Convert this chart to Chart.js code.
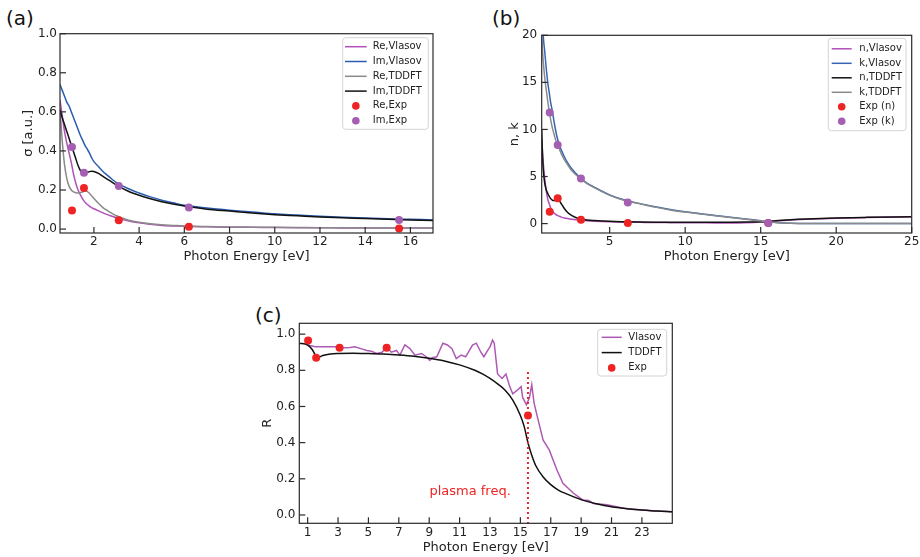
<!DOCTYPE html>
<html>
<head>
<meta charset="utf-8">
<script src="https://cdn.jsdelivr.net/npm/chart.js@4.4.1/dist/chart.umd.min.js"></script>
<style>
  html, body { margin: 0; padding: 0; background: #fff; }
  body { width: 920px; height: 557px; position: relative; overflow: hidden; font-family: 'DejaVu Sans', sans-serif; }
  canvas { position: absolute; }
  .tag { position: absolute; font-size: 20px; line-height: 20px; color: #111; }
</style>
</head>
<body>
<div class="tag" style="left:6px;top:8px">(a)</div>
<div class="tag" style="left:492px;top:8px">(b)</div>
<div class="tag" style="left:255px;top:305px">(c)</div>
<canvas id="chartA" width="455" height="244" style="left:0px;top:20px"></canvas>
<canvas id="chartB" width="440" height="244" style="left:490px;top:20px"></canvas>
<canvas id="chartC" width="440" height="250" style="left:250px;top:305px"></canvas>
<script>
// experimental photon energies (same for all panels)
const expEnergy = [1.03, 1.56, 3.1, 6.2, 15.5];

// (a) conductivity
const energyA = [0.5, 0.6, 0.7, 0.8, 0.9, 1.0, 1.1, 1.2, 1.3, 1.4, 1.5, 1.6, 1.7, 1.8, 1.9, 2.0, 2.2, 2.4, 2.6, 2.8, 3.0, 3.5, 4.0, 4.5, 5.0, 5.5, 6.0, 7.0, 8.0, 9.0, 10, 11, 12, 13, 14, 15, 16, 17];
const reVlasovA = [0.66, 0.58, 0.50, 0.44, 0.39, 0.34, 0.28, 0.235, 0.2, 0.175, 0.155, 0.138, 0.127, 0.118, 0.11, 0.104, 0.093, 0.083, 0.074, 0.066, 0.058, 0.043, 0.032, 0.025, 0.019, 0.016, 0.014, 0.012, 0.010, 0.009, 0.008, 0.007, 0.007, 0.006, 0.006, 0.005, 0.005, 0.005];
const imVlasovA = [0.74, 0.71, 0.68, 0.65, 0.63, 0.60, 0.57, 0.54, 0.51, 0.48, 0.455, 0.43, 0.41, 0.39, 0.365, 0.345, 0.32, 0.295, 0.275, 0.255, 0.238, 0.208, 0.185, 0.165, 0.148, 0.135, 0.122, 0.108, 0.097, 0.088, 0.078, 0.072, 0.066, 0.061, 0.057, 0.053, 0.050, 0.047];
const reTddftA = [0.62, 0.45, 0.33, 0.26, 0.22, 0.20, 0.19, 0.186, 0.185, 0.187, 0.19, 0.195, 0.193, 0.183, 0.17, 0.157, 0.132, 0.11, 0.094, 0.08, 0.068, 0.047, 0.035, 0.027, 0.022, 0.019, 0.016, 0.013, 0.011, 0.010, 0.009, 0.008, 0.007, 0.007, 0.006, 0.006, 0.006, 0.006];
const imTddftA = [0.61, 0.57, 0.535, 0.50, 0.465, 0.43, 0.395, 0.36, 0.325, 0.30, 0.29, 0.288, 0.29, 0.294, 0.296, 0.295, 0.285, 0.27, 0.255, 0.24, 0.225, 0.195, 0.173, 0.155, 0.14, 0.128, 0.118, 0.102, 0.092, 0.082, 0.074, 0.068, 0.062, 0.058, 0.054, 0.050, 0.047, 0.044];
const reExpA = [0.095, 0.21, 0.045, 0.012, 0.003];
const imExpA = [0.42, 0.288, 0.22, 0.11, 0.047];
const xTicksA = [2, 4, 6, 8, 10, 12, 14, 16];
const yTicksA = [0, 0.2, 0.4, 0.6, 0.8, 1.0];

// (b) n, k
const energyB = [0.5, 0.55, 0.6, 0.7, 0.8, 0.9, 1.0, 1.1, 1.2, 1.3, 1.4, 1.5, 1.6, 1.7, 1.8, 2.0, 2.2, 2.5, 3.0, 3.5, 4, 5, 6, 7, 8, 9, 10, 11, 12, 13, 14, 15, 16, 17, 18, 20, 22, 25];
const nVlasovB = [9.0, 7.6, 6.5, 4.8, 3.5, 2.6, 2.1, 1.65, 1.35, 1.15, 1.0, 0.9, 0.82, 0.75, 0.69, 0.6, 0.53, 0.45, 0.35, 0.29, 0.25, 0.19, 0.15, 0.13, 0.11, 0.1, 0.09, 0.08, 0.07, 0.07, 0.09, 0.16, 0.28, 0.38, 0.45, 0.56, 0.64, 0.72];
const kVlasovB = [24, 22, 20, 18.3, 16.5, 15.0, 13.9, 12.8, 12.0, 11.0, 10.1, 9.3, 8.7, 8.2, 7.8, 7.1, 6.5, 5.8, 4.95, 4.3, 3.85, 3.05, 2.5, 2.12, 1.8, 1.5, 1.25, 1.05, 0.85, 0.68, 0.5, 0.3, 0.12, 0.03, 0.01, 0.0, 0.0, 0.0];
const nTddftB = [10, 7.5, 5.8, 4.3, 3.6, 3.2, 2.9, 2.65, 2.5, 2.45, 2.45, 2.5, 2.5, 2.35, 2.1, 1.6, 1.2, 0.85, 0.5, 0.38, 0.32, 0.24, 0.2, 0.17, 0.15, 0.14, 0.13, 0.13, 0.13, 0.14, 0.16, 0.2, 0.3, 0.42, 0.5, 0.6, 0.66, 0.72];
const kTddftB = [20.2, 18.5, 17.3, 15.5, 14.2, 13.0, 11.9, 11.0, 10.2, 9.6, 9.0, 8.6, 8.2, 7.8, 7.4, 6.8, 6.3, 5.6, 4.85, 4.25, 3.8, 3.0, 2.45, 2.1, 1.75, 1.45, 1.22, 1.02, 0.82, 0.65, 0.47, 0.28, 0.12, 0.04, 0.02, 0.01, 0.0, 0.0];
const nExpB = [1.25, 2.7, 0.4, 0.05, 0.05];
const kExpB = [11.8, 8.35, 4.8, 2.25, 0.05];
const xTicksB = [5, 10, 15, 20, 25];
const yTicksB = [0, 5, 10, 15, 20];

// (c) reflectivity
const energyVlasovC = [1.0, 1.5, 2.0, 2.5, 2.9, 3.4, 3.8, 4.1, 4.5, 4.9, 5.2, 5.55, 5.9, 6.2, 6.5, 6.85, 7.07, 7.4, 7.73, 8.06, 8.5, 8.8, 9.04, 9.2, 9.5, 9.9, 10.2, 10.5, 10.78, 11.1, 11.4, 11.85, 12.1, 12.4, 12.6, 12.85, 13.0, 13.17, 13.28, 13.5, 13.8, 14.05, 14.3, 14.5, 14.8, 15.05, 15.15, 15.4, 15.6, 15.75, 15.9, 16.2, 16.5, 16.9, 17.4, 17.8, 18.5, 19.1, 19.5, 19.8, 20.7, 21.8, 22.9, 24, 25];
const vlasovC = [0.94, 0.93, 0.93, 0.93, 0.93, 0.925, 0.926, 0.93, 0.92, 0.91, 0.905, 0.893, 0.9, 0.93, 0.90, 0.91, 0.884, 0.94, 0.92, 0.884, 0.893, 0.875, 0.855, 0.87, 0.875, 0.95, 0.94, 0.92, 0.865, 0.884, 0.875, 0.94, 0.95, 0.90, 0.875, 0.91, 0.93, 0.967, 0.95, 0.78, 0.755, 0.78, 0.71, 0.67, 0.69, 0.71, 0.65, 0.61, 0.65, 0.72, 0.62, 0.515, 0.414, 0.36, 0.25, 0.175, 0.12, 0.083, 0.08, 0.064, 0.056, 0.037, 0.028, 0.022, 0.018];
const energyTddftC = [0.45, 1.0, 1.3, 1.5, 1.6, 1.8, 2.0, 2.5, 3, 4, 5, 6, 7, 8, 9, 10, 11, 12, 12.5, 13, 13.5, 14, 14.5, 15, 15.25, 15.5, 15.75, 16, 16.5, 17, 17.5, 18, 19, 20, 21, 22, 23, 24, 25];
const tddftC = [0.95, 0.94, 0.915, 0.885, 0.872, 0.875, 0.882, 0.89, 0.893, 0.895, 0.893, 0.89, 0.885, 0.878, 0.867, 0.852, 0.83, 0.80, 0.78, 0.755, 0.725, 0.69, 0.635, 0.55, 0.49, 0.40, 0.33, 0.275, 0.21, 0.168, 0.138, 0.118, 0.085, 0.062, 0.045, 0.035, 0.028, 0.022, 0.018];
const expC = [0.965, 0.87, 0.925, 0.925, 0.55];
const plasmaFreq = 15.5;
const plasmaLineY = [-0.05, 0.8];
const xTicksC = [1, 3, 5, 7, 9, 11, 13, 15, 17, 19, 21, 23];
const yTicksC = [0, 0.2, 0.4, 0.6, 0.8, 1.0];

Chart.defaults.font.family = "'DejaVu Sans', sans-serif";
Chart.defaults.color = '#222';

const RED = '#ee2424';
const PURPLE_DOT = '#a55fb2';

function pts(xs, ys) {
    return xs.map((x, i) => ({ x: x, y: ys[i] }));
}

function curve(label, xs, ys, color, smooth) {
    return {
        label: label,
        data: pts(xs, ys),
        showLine: true,
        borderColor: color,
        backgroundColor: color,
        borderWidth: 1.5,
        pointRadius: 0,
        cubicInterpolationMode: smooth ? 'monotone' : 'default'
    };
}

function dots(label, xs, ys, color) {
    return {
        label: label,
        data: pts(xs, ys),
        showLine: false,
        backgroundColor: color,
        borderColor: color,
        borderWidth: 0,
        pointRadius: 4
    };
}

// later datasets on top, like the original plot
function stack(list) {
    list.forEach((d, i) => { d.order = list.length - i; });
    return list;
}

// box frame and inward ticks
const frameTicks = {
    id: 'frameTicks',
    afterDraw(chart) {
        const { ctx, chartArea: a, scales } = chart;
        ctx.save();
        ctx.strokeStyle = '#2a2a2a';
        ctx.lineWidth = 1.2;
        scales.x.ticks.forEach(t => {
            const px = scales.x.getPixelForValue(t.value);
            ctx.beginPath();
            ctx.moveTo(px, a.bottom);
            ctx.lineTo(px, a.bottom - 6);
            ctx.stroke();
        });
        scales.y.ticks.forEach(t => {
            const py = scales.y.getPixelForValue(t.value);
            ctx.beginPath();
            ctx.moveTo(a.left, py);
            ctx.lineTo(a.left + 6, py);
            ctx.stroke();
        });
        ctx.strokeRect(a.left, a.top, a.right - a.left, a.bottom - a.top);
        ctx.restore();
    }
};

// matplotlib-like legend box in the upper right
const boxLegend = {
    id: 'boxLegend',
    afterDraw(chart, args, o) {
        const { ctx, chartArea: a } = chart;
        const x0 = a.right - o.inset - o.w;
        const y0 = a.top + o.top;
        ctx.save();
        ctx.beginPath();
        ctx.roundRect(x0, y0, o.w, o.h, 3);
        ctx.fillStyle = 'rgba(255,255,255,0.85)';
        ctx.fill();
        ctx.strokeStyle = '#d4d4d4';
        ctx.lineWidth = 1;
        ctx.stroke();
        ctx.font = "10px 'DejaVu Sans'";
        ctx.textBaseline = 'middle';
        chart.data.datasets.filter(d => d.label).forEach((d, i) => {
            const cy = y0 + o.first + i * o.rowH;
            if (d.showLine) {
                ctx.strokeStyle = d.borderColor;
                ctx.lineWidth = d.borderWidth;
                ctx.beginPath();
                ctx.moveTo(x0 + o.l0, cy);
                ctx.lineTo(x0 + o.l1, cy);
                ctx.stroke();
            } else {
                ctx.fillStyle = d.backgroundColor;
                ctx.beginPath();
                ctx.arc(x0 + (o.l0 + o.l1) / 2, cy, 3.8, 0, Math.PI * 2);
                ctx.fill();
            }
            ctx.fillStyle = '#222';
            ctx.fillText(d.label, x0 + o.tx, cy);
        });
        ctx.restore();
    }
};

const noteText = {
    id: 'noteText',
    afterDatasetsDraw(chart, args, o) {
        if (!o || !o.text) return;
        const { ctx, scales } = chart;
        ctx.save();
        ctx.font = "13px 'DejaVu Sans'";
        ctx.fillStyle = o.color;
        ctx.textAlign = 'right';
        ctx.textBaseline = 'middle';
        ctx.fillText(o.text, scales.x.getPixelForValue(o.x), scales.y.getPixelForValue(o.y));
        ctx.restore();
    }
};

function axes(o) {
    return {
        x: {
            type: 'linear',
            bounds: 'data',
            min: o.xMin,
            max: o.xMax,
            grid: { display: false, drawTicks: false },
            border: { display: false },
            afterBuildTicks: s => { s.ticks = o.xTicks.map(v => ({ value: v })); },
            afterFit: s => { s.height = o.xHeight; },
            ticks: { padding: 2, autoSkip: false, maxRotation: 0, font: { size: 12 }, callback: v => String(v) },
            title: { display: true, text: 'Photon Energy [eV]', font: { size: 13 }, padding: 0 }
        },
        y: {
            type: 'linear',
            bounds: 'data',
            min: o.yMin,
            max: o.yMax,
            grid: { display: false, drawTicks: false },
            border: { display: false },
            afterBuildTicks: s => { s.ticks = o.yTicks.map(v => ({ value: v })); },
            afterFit: s => { s.width = o.yWidth; },
            ticks: { padding: o.yPad, autoSkip: false, font: { size: 12 }, callback: o.yFmt },
            title: { display: true, text: o.yTitle, font: { size: 13 }, padding: { top: o.yTitlePad, bottom: 0 } }
        }
    };
}

function baseOptions(pad, scales, extra) {
    return {
        responsive: false,
        animation: false,
        events: [],
        layout: { padding: { top: pad.top, right: pad.right, left: 0, bottom: 0 } },
        scales: scales,
        plugins: Object.assign({ legend: { display: false }, tooltip: { enabled: false } }, extra)
    };
}

// Chart (a)
const chartAData = {
    datasets: stack([
        curve('Re,Vlasov', energyA, reVlasovA, '#b050b8', true),
        curve('Im,Vlasov', energyA, imVlasovA, '#2a5db0', true),
        curve('Re,TDDFT', energyA, reTddftA, '#8a8a8a', true),
        curve('Im,TDDFT', energyA, imTddftA, '#111111', true),
        dots('Re,Exp', expEnergy, reExpA, RED),
        dots('Im,Exp', expEnergy, imExpA, PURPLE_DOT)
    ])
};

const chartA = new Chart(document.getElementById('chartA'), {
    type: 'scatter',
    data: chartAData,
    options: baseOptions({ top: 13.7, right: 22 }, axes({
        xMin: 0.5, xMax: 17, xTicks: xTicksA, xHeight: 31,
        yMin: -0.02, yMax: 1.0, yTicks: yTicksA, yWidth: 60, yPad: 3,
        yFmt: v => v.toFixed(1), yTitle: 'σ [a.u.]', yTitlePad: 21
    }), {
        boxLegend: { inset: 4.7, top: 4, w: 85.6, h: 91.6, first: 9, rowH: 14.8, l0: 2.3, l1: 24, tx: 30 }
    }),
    plugins: [frameTicks, boxLegend]
});

// Chart (b)
const chartBData = {
    datasets: stack([
        curve('n,Vlasov', energyB, nVlasovB, '#b050b8', true),
        curve('k,Vlasov', energyB, kVlasovB, '#3466b2', true),
        curve('n,TDDFT', energyB, nTddftB, '#111111', true),
        curve('k,TDDFT', energyB, kTddftB, '#8a8a8a', true),
        dots('Exp (n)', expEnergy, nExpB, RED),
        dots('Exp (k)', expEnergy, kExpB, PURPLE_DOT)
    ])
};

const chartB = new Chart(document.getElementById('chartB'), {
    type: 'scatter',
    data: chartBData,
    options: baseOptions({ top: 15.3, right: 18.3 }, axes({
        xMin: 0.5, xMax: 25, xTicks: xTicksB, xHeight: 31,
        yMin: -1, yMax: 20, yTicks: yTicksB, yWidth: 51.7, yPad: 4.5,
        yFmt: v => String(v), yTitle: 'n, k', yTitlePad: 17
    }), {
        boxLegend: { inset: 5.7, top: 3, w: 77.7, h: 92.4, first: 10.5, rowH: 14.5, l0: 3.4, l1: 23.4, tx: 31 }
    }),
    plugins: [frameTicks, boxLegend]
});

// Chart (c)
const plasmaLine = {
    data: pts([plasmaFreq, plasmaFreq], plasmaLineY),
    showLine: true,
    borderColor: RED,
    borderWidth: 2,
    borderDash: [2, 3],
    pointRadius: 0
};

const chartCData = {
    datasets: stack([
        curve('Vlasov', energyVlasovC, vlasovC, '#ad5ab4', false),
        curve('TDDFT', energyTddftC, tddftC, '#111111', true),
        plasmaLine,
        dots('Exp', expEnergy, expC, RED)
    ])
};

const chartC = new Chart(document.getElementById('chartC'), {
    type: 'scatter',
    data: chartCData,
    options: baseOptions({ top: 18.3, right: 17.7 }, axes({
        xMin: 0.45, xMax: 25, xTicks: xTicksC, xHeight: 31.7,
        yMin: -0.046, yMax: 1.06, yTicks: yTicksC, yWidth: 49.3, yPad: 4,
        yFmt: v => v.toFixed(1), yTitle: 'R', yTitlePad: 9.4
    }), {
        boxLegend: { inset: 5.6, top: 6, w: 69, h: 46.7, first: 8, rowH: 15.3, l0: 4, l1: 24, tx: 30.6 },
        noteText: { text: 'plasma freq.', x: 14.37, y: 0.127, color: RED }
    }),
    plugins: [frameTicks, boxLegend, noteText]
});
</script>
</body>
</html>
